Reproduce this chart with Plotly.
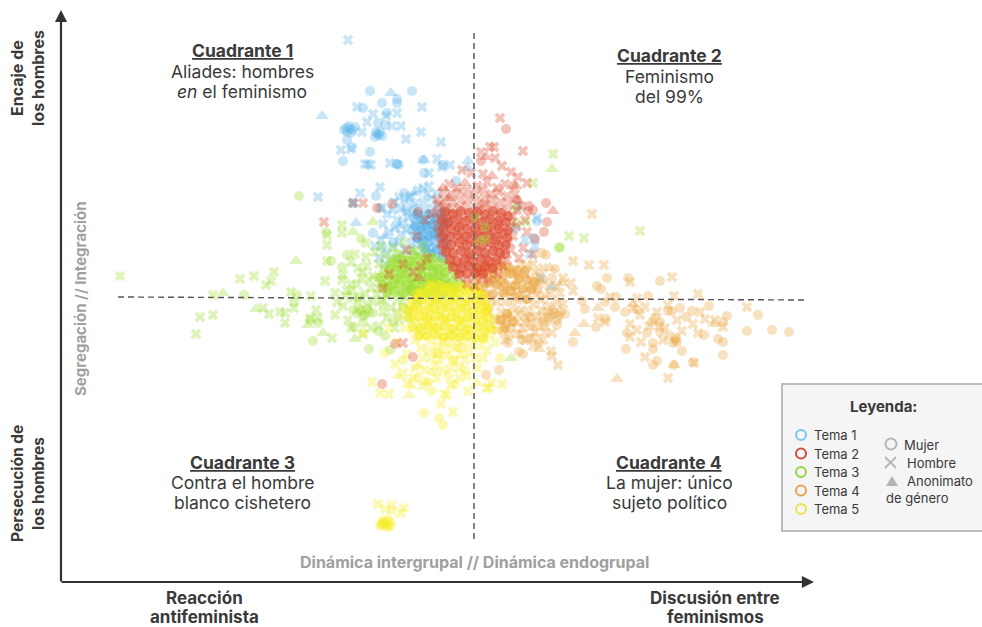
import plotly.graph_objects as go

# Values; centre of the map (0, 0) is where the dashed lines cross.
T1_MUJER = [(-103,207),(-61,207),(-91,195),(-76,199),(-76,195),(-110,190),(-86,185),(-95,175),(-88,173),(-126,158),(-121,151),(-103,146),(-130,137),(-76,134),(-49,125),(-50,138),(-30,133),(-17,117),(-97,102),(-69,105),(-120,95),(-93,90),(-55,86),(64,77),(-100,65),
 (-127,170),(-124,172),(-120,168),(-126,166),(-122,165),(-118,171),(-123,169),(-129,168),(-97,166),(-94,163),(-98,161),(-93,166),(-96,164),(-91,162),(-76,134),(-74,133),
 (-60,82),(-48,70),(-40,66),(-38,58),(-44,52),(-30,76),(-68,88),(-80,56),(-90,50),(61,60),(42,70)]
T1_NUCLEO = [(-56,84),(-50,78),(-44,84),(-38,80),(-32,84),(-58,72),(-52,68),(-46,72),(-40,74),(-34,70),(-28,74),(-56,60),(-50,58),(-44,62),(-38,64),(-32,60),(-27,54),(-48,50),(-42,44),(-36,48),(-31,40)]
T1_HOMBRE = [(-125,258),(-116,191),(-100,184),(-51,191),(-76,185),(-87,182),(-106,176),(-81,172),(-72,172),(-111,166),(-52,166),(-67,159),(-32,156),(-132,148),(-122,149),(-105,134),(-108,134),(-102,133),(-83,135),(-36,139),(-31,131),(-23,133),(-44,125),(-93,111),(-113,105),(-155,101),(-120,95),(-91,90),
 (-79,96),(-74,101),(-68,98),(-62,102),(-55,108),(-50,110),(-44,112),(-58,94),(-50,96),(-42,100),(-36,104),(-72,90),(-66,86),(-60,90),(-54,82),(-48,88),(-40,90),(-34,92),(-76,78),(-70,76),(-64,80),(-58,74),(-52,76),(-46,80),(-40,78),(-34,82),(-28,86),(-84,66),(-78,70),(-72,64),(-66,68),(-60,62),(-54,66),(-48,60),(-42,68),(-36,62),(-30,70),(-25,78),(-92,58),(-86,44),(-80,52),(-74,56),(-68,48),(-62,54),(-56,56),(-50,48),(-44,58),(-38,50),(-32,56),(-27,62),
 (-58,68),(-52,62),(-46,64),(-40,56),(-34,66),(-56,78),(-50,72),(-44,74),(-38,72),(-32,74),(-62,70),(-46,50),(-52,54),(-42,46),(-36,42),(-30,46),(64,80),(57,44),(68,20),
 (-90,74),(-86,84),(-80,88),(-94,40),(-98,52),(-88,34),(-76,40),(-64,100),(-46,104),(45,92),(52,58),(62,52)]
T1_ANON = [(-82,205),(-151,182),(-49,138),(-5,137),(-59,105),(-117,75),(-88,62),(-74,72),(-60,46),(79,11),(-5,130)]

T2_MUJER = [(33,169),(8,137),(40,112),(73,95),(55,87),(60,88),(74,76),(71,66),(62,59),(-81,94),(-96,90),(44,98),(-78,-46),(-60,-59),(-91,-86),(-55,86),(56,92)]
T2_NUCLEO = [(-28,86),(-20,84),(-12,87),(-4,85),(4,86),(12,84),(20,87),(28,85),(35,82),
 (-31,78),(-24,76),(-15,79),(-7,77),(1,78),(9,76),(17,79),(25,77),(33,76),
 (-30,70),(-22,69),(-14,71),(-6,69),(2,70),(10,68),(18,71),(26,69),(35,67),
 (-30,62),(-23,61),(-15,63),(-7,61),(1,63),(9,61),(17,63),(25,61),(34,60),
 (-30,54),(-22,53),(-14,55),(-6,53),(2,55),(10,53),(18,55),(26,53),(33,53),
 (-27,46),(-20,45),(-12,47),(-4,45),(4,47),(12,45),(20,47),(27,45),(32,44),
 (-23,38),(-16,37),(-8,39),(0,37),(8,39),(16,37),(24,38),(-20,31),(-12,30),(-4,32),(4,30),(12,31),(20,30),(-14,24),(-6,24),(2,25),(10,24)]
T2_HOMBRE = [(27,180),(17,151),(21,151),(8,146),(50,147),(22,140),(29,132),(38,126),(45,121),(54,115),(-11,128),(-2,125),(10,124),(-120,95),(-110,95),(-149,76),(-70,-45),(4,112),(14,116),(-16,110),(-24,114),(24,110),(32,114),(-36,98),
 (-30,106),(-22,104),(-14,106),(-6,108),(2,104),(10,108),(18,104),(26,106),(34,102),(42,104),(48,92),
 (-34,94),(-28,98),(-20,96),(-12,98),(-4,100),(4,96),(12,100),(20,98),(28,96),(36,94),(44,88),
 (-36,86),(-30,90),(-22,88),(-14,90),(-6,92),(2,88),(10,92),(18,90),(26,88),(34,86),(40,82),
 (-33,80),(-26,82),(-18,84),(-10,82),(-2,84),(6,82),(14,84),(22,82),(30,80),(38,76),
 (-36,72),(-28,74),(-20,76),(-12,74),(-4,76),(4,74),(12,76),(20,74),(28,72),(36,70),(44,72),
 (-32,66),(-24,68),(-16,66),(-8,68),(0,66),(8,68),(16,66),(24,68),(32,64),(40,62),
 (-28,60),(-20,60),(-12,62),(-4,60),(4,62),(12,60),(20,62),(28,58),(36,56),
 (-32,54),(-24,52),(-16,54),(-8,52),(0,54),(8,52),(16,54),(24,52),(32,50),(38,48),
 (-27,46),(-20,44),(-12,46),(-4,44),(4,46),(12,44),(20,46),(28,42),(34,38),
 (-24,38),(-16,36),(-8,38),(0,36),(8,38),(16,36),(24,36),(30,32),
 (-20,30),(-12,28),(-4,30),(4,28),(12,30),(20,28),(25,24),(-14,22),(-6,20),(2,22),(10,20),(16,18),(-6,14),(2,12),
 (-34,64),(-30,48),(-24,78),(6,88),(-8,58),(14,72),(22,58),(-16,72),(30,66),(-2,42),(8,26),(-10,34),(18,40),(26,76),(-26,90),(12,94),
 (-48,78),(-42,84),(-56,62),(-46,40),(-70,34),(-60,26),(50,50),(46,40),(54,66),(60,44),(-66,48),(-84,24),(-90,10),(-52,32),(52,78)]
T2_ANON = [(43,112),(80,87),(13,141),(19,122),(-8,115),(-30,110),(44,98),(-54,20),(-24,100)]

T3_MUJER = [(-174,102),(-147,66),(-112,59),(-126,43),(-142,37),(-131,31),(-229,3),(-176,3),(-179,-4),(-155,-25),(-163,-22),(-160,-43),(-119,-29),(-110,-25),(-95,-33),(-88,-38),(-104,-51),(-83,-52),(-113,1),(-120,-12),(-116,-15),(-112,-13),(-108,-17),(-104,-14),(-110,-18),(-114,-11),(-106,-11),(-100,-15),
 (87,51),(86,50),(43,90),(-90,-6),(-85,12),(-95,20),(-75,28),(-60,6),(-40,28),(-55,-5),(-70,-10),(-80,-24),(-65,-20)]
T3_SOBRE_ROJO = [(7,57),(13,59),(12,71),(2,81)]
T3_NUCLEO = [(-80,36),(-72,39),(-64,37),(-56,40),(-48,38),(-40,40),(-32,36),(-24,33),
 (-84,29),(-76,31),(-68,30),(-60,32),(-52,30),(-44,32),(-36,29),(-28,26),(-18,24),
 (-92,21),(-84,22),(-76,20),(-68,22),(-60,21),(-52,23),(-44,21),(-36,22),(-28,19),(-20,17),(-12,14),
 (-90,13),(-82,12),(-74,14),(-66,13),(-58,15),(-50,13),(-42,14),(-34,15),(-26,11),(-18,9),
 (-86,5),(-78,6),(-70,5),(-62,7),(-54,6),(-46,5),(-38,7),(-30,6)]
T3_HOMBRE = [(-353,22),(-260,3),(-233,19),(-219,22),(-207,13),(-202,17),(-199,26),(-273,-19),(-260,-17),(-277,-36),(-182,6),(-162,2),(-210,-10),(-204,-16),(-193,-14),(-188,-15),(-188,-25),(-179,-10),(-157,-12),(-163,-20),(-155,-20),(-141,-40),(-138,-17),(-136,-4),(-138,5),(-148,17),(-146,37),(-130,23),(-131,18),(-146,53),(-146,63),(-131,73),(-131,65),(-107,55),(-107,41),(-115,30),(-116,13),(-125,-22),
 (80,144),(60,115),(96,62),(111,60),(167,67),(53,76),(43,75),
 (-126,8),(-120,0),(-115,-3),(-108,4),(-102,10),(-100,22),(-110,26),(-94,34),(-88,42),(-80,50),(-70,56),(-60,48),(-50,52),(-42,40),(-34,30),(-28,20),(-22,12),(-18,5),(-100,-4),(-96,4),(-92,14),(-88,24),(-84,32),(-78,40),(-72,44),(-66,36),(-60,38),(-54,42),(-48,44),(-40,34),(-34,20),(-30,12),(-24,6),
 (-92,-2),(-86,2),(-84,16),(-80,8),(-78,22),(-76,14),(-74,34),(-72,4),(-70,24),(-68,12),(-66,20),(-64,30),(-62,14),(-60,24),(-58,32),(-56,18),(-54,8),(-54,28),(-50,36),(-50,20),(-48,12),(-46,30),(-44,22),(-42,14),(-40,26),(-38,8),(-36,18),(-32,26),(-82,28),(-70,38),(-76,-2),(-68,2),(-62,6),(-56,-2),(-50,4),(-44,6),(-38,0),(-30,4),(-26,14),(-46,40),(-64,44),(-58,46),
 (-82,-10),(-76,-14),(-70,-4),(-64,-12),(-86,-20),(-94,-28),(-78,-30),(-90,-14),(-74,-22),(-102,-30),(-82,38),(-76,44),(-90,30),(-60,14),(-66,10),(-72,18),(-80,18),(-74,26),(-52,14),(-58,6),(-46,18),(-34,12),(-40,18),(-28,28),(-50,28),(-42,32),(-68,28),(-86,10),(-94,10),(-106,-6),
 (-122,14),(-112,20),(-106,32),(-98,46),(-92,52),(-118,44),(-122,36),(-104,18),(-130,-8),(-122,-30),(-128,2),(-110,-36)]
T3_ANON = [(-177,37),(-100,76),(-250,5),(-217,-11),(-150,-35),(-118,-41),(-165,-27),(-121,6),(79,129),(38,-60),(-120,66)]

T4_MUJER = [(134,20),(155,20),(187,17),(124,12),(128,9),(109,-3),(112,-11),(132,-4),(143,1),(142,-9),(152,-14),(175,2),(133,-21),(123,-29),(100,-44),(82,29),(79,20),(69,45),(73,43),(82,-15),(92,-16),(84,-27),(35,-45),(49,-42),(66,-45),(46,-54),(50,-56),(26,-72),(13,-77),(57,-19),
 (207,-10),(219,-13),(236,-8),(254,-18),(250,-24),(231,-37),(245,-41),(250,-44),(250,-57),(209,-53),(220,-64),(201,-67),(184,-63),(180,-67),(180,-51),(153,-51),(154,-35),(180,-45),(274,-33),(285,-17),(299,-32),(316,-34),(213,-19),(200,-45),(187,-34),(174,-35),(195,-13),(199,-13),(202,-42),(204,-44),(203,-40),(182,-20),(187,-24),(179,-24),(164,-12),
 (88,-14),(86,-18),(78,-17),(74,-24),(70,-28),(35,-20),(33,-25),(38,-30),(30,-33),(36,-38),(80,-12),(76,-20),(84,-22),(64,8),(70,18)]
T4_NUCLEO = [(5,30),(12,33),(20,29),(28,32),(36,30),(44,28),(52,27),(4,20),(14,24),(22,20),(30,22),(38,24),(46,19),(54,18),(62,16),(6,12),(14,15),(24,13),(32,14),(42,12),(50,9),(58,8),(10,4),(20,4),(30,5),(38,7),(46,2),(54,-1),(34,-16),(28,-22),(40,-24),(32,-30)]
T4_HOMBRE = [(119,84),(100,37),(116,33),(131,33),(98,15),(100,7),(87,5),(157,16),(199,21),(201,2),(225,4),(274,-9),(164,0),(137,1),(172,-9),(160,-10),(167,-17),(184,-14),(195,-7),(227,-14),(232,-21),(220,-26),(242,-22),(250,-29),(225,-35),(209,-33),(157,-26),(164,-32),(157,-39),(190,-42),(172,-59),(195,-80),(221,-65),(132,-24),(125,-20),(78,-53),(79,-58),(85,-67),(79,-35),(57,-40),
 (70,30),(62,26),(76,12),(66,14),(58,18),(72,2),(64,4),(54,10),(46,24),(50,-2),(42,0),(60,-6),(68,-12),(76,-8),(84,-4),(56,-14),(48,-12),(40,-8),(32,-4),(24,-4),(14,2),(6,4),(58,-26),(66,-24),(72,-34),(62,-34),(50,-30),(44,-24),(38,-16),(28,-14),(22,-22),(16,-14),(24,-32),(32,-42),(44,-36),(52,-42),(60,-48),
 (12,10),(20,22),(28,14),(36,12),(44,20),(52,24),(60,12),(34,28),(26,34),(16,14),(10,26),(40,26),(24,16),(32,6),(38,2),(44,12),(18,-2),(8,-2),(14,-10),(26,-22),(60,34),(54,32),(48,34),(66,22),
 (68,-2),(74,-14),(64,-18),(54,-20),(46,-16),(70,-42),(60,-40),(52,-24),(48,-36),(90,20),(84,12),(78,4),(70,-20),(90,-6),(176,-28),(192,-30),(204,-22),(168,-44),(186,-28),(196,-38)]
T4_ANON = [(89,15),(125,-10),(111,-26),(102,-35),(66,-51),(144,-81),(201,-67),(241,-26),(160,-6),(77,30),(30,30),(60,-30)]

T5_MUJER = [(-41,-93),(-49,-115),(-34,-120),(-30,-127),(27,-60),(-110,-35),(-88,-55),(-70,-62),(-55,-80),(-40,-74),(-20,-62),(-12,-50),(-35,-55),(-25,-78),(-45,-84),(-8,-72),(-18,-86),
 (-92,-226),(-88,-224),(-84,-227),(-90,-222),(-86,-229),(-93,-228),(-82,-224),(-89,-227),(-85,-222),(-91,-225),(-83,-229),(-87,-226)]
T5_NUCLEO = [(-42,12),(-34,13),(-26,10),(-18,11),(-10,9),(-2,11),(4,8),(10,3),
 (-54,5),(-46,6),(-38,4),(-30,7),(-22,5),(-14,4),(-6,6),(2,3),(10,-3),(15,-10),
 (-60,-3),(-52,-2),(-44,-4),(-36,-2),(-28,-4),(-20,-2),(-12,-5),(-4,-3),(4,-6),(12,-12),
 (-64,-12),(-56,-10),(-48,-13),(-40,-10),(-32,-12),(-24,-10),(-16,-13),(-8,-11),(0,-14),(8,-15),(15,-20),
 (-62,-20),(-54,-19),(-46,-21),(-38,-19),(-30,-21),(-22,-19),(-14,-22),(-6,-20),(2,-22),(10,-24),(17,-30),
 (-60,-29),(-52,-30),(-44,-28),(-36,-30),(-28,-28),(-20,-31),(-12,-29),(-4,-31),(4,-30),(12,-33),
 (-54,-38),(-46,-38),(-38,-36),(-30,-39),(-22,-37),(-14,-39),(-6,-38),(2,-40),(10,-40)]
T5_HOMBRE = [(-93,-95),(-84,-96),(-66,-85),(-101,-84),(-29,-96),(-26,-97),(-32,-106),(-20,-114),(-22,-87),(-5,-93),(15,-90),(29,-86),(18,-85),(14,-90),(-95,-206),(-81,-207),(-88,-211),(-81,-213),(-72,-215),(-69,-210),
 (-50,10),(-42,14),(-34,8),(-26,12),(-18,6),(-10,12),(-2,8),(6,2),(14,-4),(-58,2),(-50,0),(-42,4),(-34,-2),(-26,2),(-18,-4),(-10,0),(-2,-2),(6,-8),(14,-12),(20,-20),
 (-62,-8),(-54,-12),(-46,-8),(-38,-12),(-30,-8),(-22,-14),(-14,-10),(-6,-14),(2,-12),(10,-18),(18,-28),(-64,-18),(-56,-22),(-48,-18),(-40,-22),(-32,-18),(-24,-24),(-16,-20),(-8,-24),(0,-22),(8,-28),(16,-36),(24,-32),
 (-68,-30),(-60,-32),(-52,-28),(-44,-32),(-36,-28),(-28,-34),(-20,-30),(-12,-34),(-4,-32),(4,-38),(12,-42),(22,-44),(-58,-42),(-50,-38),(-42,-42),(-34,-38),(-26,-44),(-18,-40),(-10,-44),(-2,-46),(6,-48),(14,-52),
 (-52,-50),(-44,-52),(-36,-48),(-28,-52),(-20,-50),(-12,-56),(-4,-54),(-50,-60),(-42,-60),(-34,-62),(-26,-58),(-18,-62),(-48,-72),(-38,-68),(-30,-72),(-22,-70),(-58,-70),(-66,-56),(-76,-44),(-84,-30),(-72,-18),(-14,-70),(-8,-62),(2,-60),(-46,-24),(-38,-4),(-28,-20),(-12,-22),(-54,-34),(-40,-30),(-30,-44),(-16,-48),(-6,-6),(-22,0),(-44,-16),(-60,-14),(-36,-56),(-24,-38),(-8,-36),(-56,4),(-70,-10),
 (-70,-75),(-60,-80),(-50,-88),(-36,-80),(-14,-80),(-6,-78),(4,-70),(10,-60),(-78,-66)]
T5_ANON = [(-64,-97),(-47,-84),(4,-85),(-75,-78),(-55,-68),(-62,-88)]

THEMES = [("Tema 1", "#58B2EA", T1_MUJER, T1_HOMBRE, T1_ANON, T1_NUCLEO),
          ("Tema 3", "#9BDD2F", T3_MUJER, T3_HOMBRE, T3_ANON, T3_NUCLEO),
          ("Tema 4", "#E9A43C", T4_MUJER, T4_HOMBRE, T4_ANON, T4_NUCLEO),
          ("Tema 5", "#F6EC22", T5_MUJER, T5_HOMBRE, T5_ANON, T5_NUCLEO),
          ("Tema 2", "#DC4A2E", T2_MUJER, T2_HOMBRE, T2_ANON, T2_NUCLEO)]
GENDERS = [("Mujer", "circle", 10, 0.33), ("Hombre", "x", 9.5, 0.33), ("Anonimato", "triangle-up", 12, 0.33), ("Mujer núcleo", "circle", 10, 0.6)]
LEGEND_THEMES = [("Tema 1", "#7CC4EE"), ("Tema 2", "#C9503A"), ("Tema 3", "#8FD640"), ("Tema 4", "#E8A550"), ("Tema 5", "#EFE24A")]

W, H = 982, 627
X0, Y0 = 473, 298   # pixel position of the map's centre
FONT = "Inter"
DARK = "#3a3a3a"

fig = go.Figure()
def add_points(pts, name, symbol, size, color, opacity):
    fig.add_trace(go.Scatter(
        x=[p[0] for p in pts], y=[p[1] for p in pts], mode="markers", name=name,
        marker=dict(symbol=symbol, size=size, color=color, opacity=opacity, line=dict(width=0)),
        showlegend=False, hoverinfo="skip"))

for name, color, *groups in THEMES:
    for (gender, symbol, size, alpha), pts in zip(GENDERS, groups):
        add_points(pts, f"{name} {gender}", symbol, size, color, alpha)
add_points(T3_SOBRE_ROJO, "Tema 3 Mujer", "circle", 10, "#9BDD2F", 0.33)

def px(x): return x / W
def py(y): return 1 - y / H

GREY = "#B5B5B5"
shapes = [
    dict(type="line", xref="x", yref="y", x0=118-X0, x1=805-X0, y0=Y0-297, y1=Y0-300,
         line=dict(color="#555", width=1.4, dash="6px,4px")),
    dict(type="line", xref="x", yref="y", x0=474-X0, x1=474-X0, y0=Y0-33, y1=Y0-540,
         line=dict(color="#666", width=1.6, dash="6px,4px")),
    dict(type="rect", xref="paper", yref="paper", x0=px(782), x1=px(990), y0=py(531), y1=py(384),
         fillcolor="#F5F5F5", line=dict(color="#BDBDBD", width=2), layer="above"),
]
for i, (_, c) in enumerate(LEGEND_THEMES):
    yc = 435 + i * 18.5
    shapes.append(dict(type="circle", xref="paper", yref="paper", x0=px(796), x1=px(806), y0=py(yc+5), y1=py(yc-5),
                       line=dict(color=c, width=2), fillcolor="rgba(0,0,0,0)", layer="above"))
shapes.append(dict(type="circle", xref="paper", yref="paper", x0=px(885.5), x1=px(896.5), y0=py(449.5), y1=py(438.5),
                   line=dict(color=GREY, width=2), fillcolor="rgba(0,0,0,0)", layer="above"))
for (a, b, c, d) in [(885, 457, 896, 468), (885, 468, 896, 457)]:
    shapes.append(dict(type="line", xref="paper", yref="paper", x0=px(a), y0=py(b), x1=px(c), y1=py(d),
                       line=dict(color=GREY, width=1.8), layer="above"))
shapes.append(dict(type="path", xref="paper", yref="paper",
                   path=f"M {px(886)} {py(486)} L {px(898)} {py(486)} L {px(892)} {py(476)} Z",
                   fillcolor=GREY, line=dict(width=0), layer="above"))
fig.update_layout(shapes=shapes)

def label(text, x, y, size=17.5, color=DARK, anchor="center", angle=0):
    fig.add_annotation(text=text, xref="paper", yref="paper", x=px(x), y=py(y), showarrow=False,
                       xanchor=anchor, yanchor="middle", textangle=angle,
                       font=dict(family=FONT, size=size, color=color))

for x, title_y, title, lines in [
    (242, 51, "Cuadrante 1", ["Aliades: hombres", "<i>en</i> el feminismo"]),
    (669, 56, "Cuadrante 2", ["Feminismo", "del 99%"]),
    (242, 462, "Cuadrante 3", ["Contra el hombre", "blanco cishetero"]),
    (669, 462, "Cuadrante 4", ["La mujer: único", "sujeto político"])]:
    label(f"<b><u>{title}</u></b>", x, title_y)
    for k, t in enumerate(lines):
        label(t, x, title_y + 20 * (k + 1))

label("<b>Encaje de</b>", 17, 78, size=16, angle=-90)
label("<b>los hombres</b>", 38, 78, size=16, angle=-90)
label("<b>Persecución de</b>", 17, 484, size=15.5, angle=-90)
label("<b>los hombres</b>", 38, 484, size=15.5, angle=-90)
label("<b>Segregación // Integración</b>", 80, 299, size=15, color="#A0A0A0", angle=-90)
label("<b>Dinámica intergrupal // Dinámica endogrupal</b>", 474, 562, size=16, color="#A0A0A0")
label("<b>Reacción</b>", 204, 598, size=17)
label("<b>antifeminista</b>", 204, 617, size=17)
label("<b>Discusión entre</b>", 715, 598, size=17)
label("<b>feminismos</b>", 715, 617, size=17)

label("<b>Leyenda:</b>", 883, 406, size=15)
for i, (t, _) in enumerate(LEGEND_THEMES):
    label(t, 812, 435 + i * 18.5, size=13, anchor="left")
label("Mujer", 902, 445, size=13, anchor="left")
label("Hombre", 905, 463, size=13, anchor="left")
label("Anonimato", 905, 481, size=13, anchor="left")
label("de género", 884, 498, size=13, anchor="left")

# Axis arrows
for ax_, ay_, x_, y_ in [(61, 583, 61, 10), (60, 582, 814, 582)]:
    fig.add_annotation(x=x_-X0, y=Y0-y_, ax=ax_-X0, ay=Y0-ay_, xref="x", yref="y",
                       axref="x", ayref="y", text="", showarrow=True, arrowhead=2,
                       arrowsize=1.1, arrowwidth=2.2, arrowcolor="#333")

fig.update_layout(
    width=W, height=H, margin=dict(l=0, r=0, t=0, b=0), autosize=False,
    paper_bgcolor="white", plot_bgcolor="white",
    xaxis=dict(range=[-X0, W - X0], visible=False, fixedrange=True),
    yaxis=dict(range=[Y0 - H, Y0], visible=False, fixedrange=True),
)
fig.write_html("out.html", post_script="document.body.style.margin='0';document.body.style.overflow='hidden';",
               config=dict(displayModeBar=False))
